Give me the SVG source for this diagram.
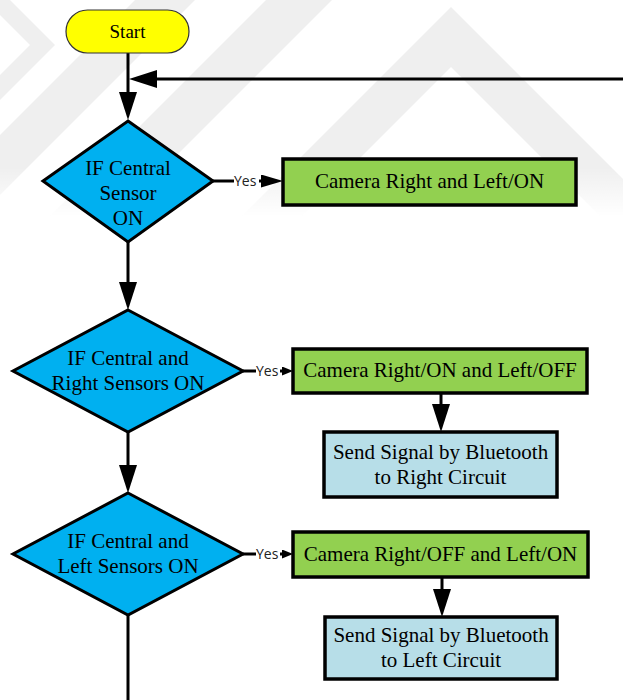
<svg xmlns="http://www.w3.org/2000/svg" width="623" height="700" viewBox="0 0 623 700">
  <defs>
    <style>
      .lbl { font-family: "Liberation Serif", "Times New Roman", serif; font-size: 21px; fill: #000; text-anchor: middle; }
      .yes { font-family: "Open Sans", "Liberation Sans", sans-serif; font-size: 14px; fill: #222; }
      .dec { fill: #00B0F0; stroke: #000; stroke-width: 3; stroke-linejoin: miter; }
      .act { fill: #92D050; stroke: #000; stroke-width: 3.5; }
      .snd { fill: #B7DEE8; stroke: #000; stroke-width: 3.5; }
      .term { fill: #FFFF00; stroke: #333; stroke-width: 1.2; }
      .wire { fill: none; stroke: #000; stroke-width: 3; }
      .wm { fill: #efefef; }
    </style>
    <marker id="head" markerUnits="userSpaceOnUse" viewBox="0 0 28 18" markerWidth="28" markerHeight="18" refX="0" refY="9" orient="auto">
      <path d="M0,0 L28,9 L0,18 Z" fill="#000"/>
    </marker>
    <marker id="headS" markerUnits="userSpaceOnUse" viewBox="0 0 22 13" markerWidth="22" markerHeight="13" refX="0" refY="6.5" orient="auto">
      <path d="M0,0 L22,6.5 L0,13 Z" fill="#000"/>
    </marker>
    <marker id="headXS" markerUnits="userSpaceOnUse" viewBox="0 0 11 9" markerWidth="11" markerHeight="9" refX="0" refY="4.5" orient="auto">
      <path d="M0,0 L11,4.5 L0,9 Z" fill="#000"/>
    </marker>
    <linearGradient id="fade" x1="0" y1="0" x2="0" y2="1" gradientUnits="userSpaceOnUse" gradientTransform="scale(1,240)">
      <stop offset="0.7" stop-color="#fff"/>
      <stop offset="0.9" stop-color="#000"/>
    </linearGradient>
    <mask id="wmMask">
      <rect x="0" y="0" width="623" height="240" fill="url(#fade)"/>
    </mask>
  </defs>

  <rect width="623" height="700" fill="#fff"/>

  <!-- background watermark chevrons -->
  <g id="watermark" class="wm" mask="url(#wmMask)">
    <polygon points="0,-10 55,45 0,100 0,75 30,45 0,15"/>
    <polygon points="135,0 195,0 0,195 0,135"/>
    <polygon points="266,0 332,0 0,332 0,266"/>
    <polygon points="451,7 700,256 640,256 451,67 262,256 202,256"/>
  </g>

  <!-- connectors -->
  <g id="connectors">
    <path class="wire" d="M128,53 L128,92" marker-end="url(#head)"/>
    <path class="wire" d="M623,79 L157,79" marker-end="url(#head)"/>
    <path class="wire" d="M128,242 L128,282" marker-end="url(#head)"/>
    <path class="wire" d="M128,432 L128,465" marker-end="url(#head)"/>
    <path class="wire" d="M128,615 L128,700"/>
    <path class="wire" d="M441,393 L441,404" marker-end="url(#head)"/>
    <path class="wire" d="M442,577 L442,589" marker-end="url(#head)"/>
    <!-- Yes branches -->
    <path class="wire" d="M212,181 L234,181"/>
    <path class="wire" d="M259,181 L261,181" marker-end="url(#headS)"/>
    <text class="yes" x="234" y="186">Yes</text>
    <path class="wire" d="M243,371 L256,371"/>
    <path class="wire" d="M280,371 L282,371" marker-end="url(#headXS)"/>
    <text class="yes" x="256" y="376">Yes</text>
    <path class="wire" d="M243,554 L256,554"/>
    <path class="wire" d="M280,554 L282,554" marker-end="url(#headXS)"/>
    <text class="yes" x="256" y="559">Yes</text>
  </g>

  <g id="start">
    <rect class="term" x="66" y="10" width="123" height="43" rx="21.5" ry="21.5"/>
    <text class="lbl" x="127.5" y="38" style="font-size:19px">Start</text>
  </g>

  <g id="check-central">
    <polygon class="dec" points="128,121 213,181 128,242 43,181"/>
    <text class="lbl" x="128" y="175">IF Central</text>
    <text class="lbl" x="128" y="200">Sensor</text>
    <text class="lbl" x="128" y="225">ON</text>
  </g>

  <g id="camera-both">
    <rect class="act" x="283" y="159" width="293" height="46"/>
    <text class="lbl" x="429.5" y="188">Camera Right and Left/ON</text>
  </g>

  <g id="check-central-right">
    <polygon class="dec" points="128,310 243,371 128,432 13,371"/>
    <text class="lbl" x="128" y="365">IF Central and</text>
    <text class="lbl" x="128" y="390">Right Sensors ON</text>
  </g>

  <g id="camera-right">
    <rect class="act" x="293" y="349" width="294" height="44"/>
    <text class="lbl" x="440" y="377">Camera Right/ON and Left/OFF</text>
  </g>

  <g id="signal-right">
    <rect class="snd" x="324" y="432" width="233" height="65"/>
    <text class="lbl" x="440.5" y="459">Send Signal by Bluetooth</text>
    <text class="lbl" x="440.5" y="484">to Right Circuit</text>
  </g>

  <g id="check-central-left">
    <polygon class="dec" points="128,493 243,554 128,615 13,554"/>
    <text class="lbl" x="128" y="548">IF Central and</text>
    <text class="lbl" x="128" y="573">Left Sensors ON</text>
  </g>

  <g id="camera-left">
    <rect class="act" x="293" y="532" width="295" height="45"/>
    <text class="lbl" x="440.5" y="561">Camera Right/OFF and Left/ON</text>
  </g>

  <g id="signal-left">
    <rect class="snd" x="325" y="617" width="232" height="62"/>
    <text class="lbl" x="441" y="642">Send Signal by Bluetooth</text>
    <text class="lbl" x="441" y="667">to Left Circuit</text>
  </g>
</svg>
